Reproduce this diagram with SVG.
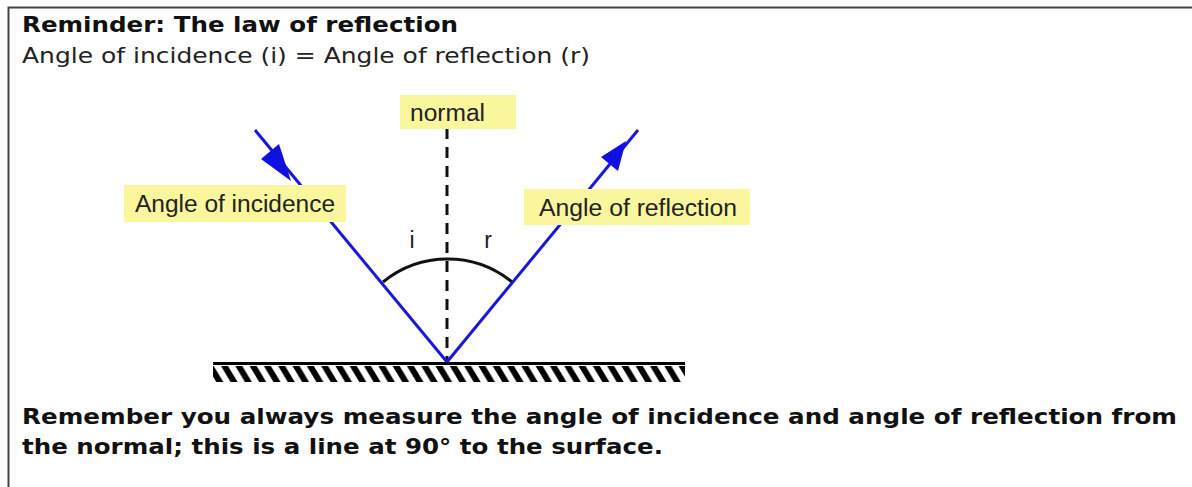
<svg xmlns="http://www.w3.org/2000/svg" width="1192" height="487" viewBox="0 0 1192 487">
<defs>
<style>
.title{font-family:"DejaVu Sans",Verdana,sans-serif;font-weight:bold;font-size:21px;fill:#111}
.sub{font-family:"DejaVu Sans",Verdana,sans-serif;font-size:21px;fill:#222}
.lbl{font-family:"Liberation Sans",Arial,sans-serif;font-size:23px;fill:#222}
.box{fill:#faf69e}
.ray{stroke:#1818d8;stroke-width:3;fill:none}
.head{fill:#1010e0}
</style>
<pattern id="hatch" patternUnits="userSpaceOnUse" width="14.3" height="16" x="213" y="366">
<path d="M-4,-2 L8,18 M10.3,-2 L22.3,18" stroke="#000" stroke-width="6"/>
</pattern>
</defs>
<rect width="1192" height="487" fill="#fff"/>
<path d="M8.5,487 V7.5 H1192" fill="none" stroke="#444" stroke-width="2"/>
<g id="header">
<text class="title" x="22" y="32" textLength="436" lengthAdjust="spacingAndGlyphs">Reminder: The law of reflection</text>
<text class="sub" x="22" y="63" textLength="568" lengthAdjust="spacingAndGlyphs">Angle of incidence (i) = Angle of reflection (r)</text>
</g>
<g id="surface">
<rect x="213" y="366" width="472" height="16" fill="url(#hatch)"/>
<line x1="213" y1="363.5" x2="685" y2="363.5" stroke="#000" stroke-width="3"/>
</g>
<g id="connectors">
<line id="normal-line" x1="447" y1="128" x2="447" y2="362" stroke="#111" stroke-width="3" stroke-dasharray="11 8"/>
<path id="angle-arc" d="M383,282 A102,102 0 0 1 512,282" fill="none" stroke="#111" stroke-width="3"/>
<line id="incident-ray" class="ray" x1="255" y1="130" x2="447" y2="362"/>
<polygon class="head" points="291,181 261,159 279,144"/>
<line id="reflected-ray" class="ray" x1="447" y1="362" x2="638" y2="130"/>
<polygon class="head" points="626,141 618,171 601,157"/>
</g>
<g id="normal-label">
<rect class="box" x="400" y="95" width="116" height="34"/>
<text class="lbl" x="410" y="121" textLength="75" lengthAdjust="spacingAndGlyphs">normal</text>
</g>
<g id="incidence-label">
<rect class="box" x="124" y="185" width="222" height="37"/>
<text class="lbl" x="135" y="212" textLength="200" lengthAdjust="spacingAndGlyphs">Angle of incidence</text>
</g>
<g id="reflection-label">
<rect class="box" x="524" y="189" width="226" height="36"/>
<text class="lbl" x="539" y="216" textLength="198" lengthAdjust="spacingAndGlyphs">Angle of reflection</text>
</g>
<g id="angle-i"><text class="lbl" x="412" y="248" text-anchor="middle">i</text></g>
<g id="angle-r"><text class="lbl" x="488" y="248" text-anchor="middle">r</text></g>
<g id="footer">
<text class="title" x="22" y="424" textLength="1155" lengthAdjust="spacingAndGlyphs">Remember you always measure the angle of incidence and angle of reflection from</text>
<text class="title" x="22" y="454" textLength="641" lengthAdjust="spacingAndGlyphs">the normal; this is a line at 90° to the surface.</text>
</g>
</svg>
